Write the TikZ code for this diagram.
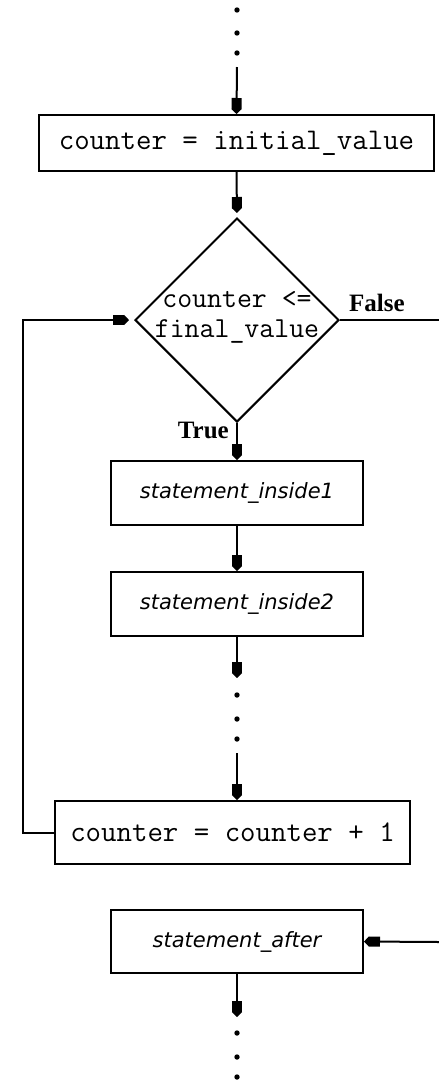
\documentclass[tikz,border=0pt]{standalone}
\usepackage{fontspec}
\newfontfamily\stmtfont{DejaVu Sans}
\newfontfamily\labfont{Liberation Serif}
\usetikzlibrary{arrows.meta,shapes.geometric}
\tikzset{
  ln/.style={line width=2pt},
  arr/.style={line width=2pt,-{Rectangle[length=11pt,width=10pt,sep=0pt]Triangle[length=5pt,width=10pt]}},
  box/.style={draw,line width=2pt,inner sep=0pt,minimum width=#1},
  codefont/.style={font=\ttfamily\fontsize{30}{24}\selectfont},
  dcode/.style={font=\ttfamily\fontsize{29}{24}\selectfont},
  stmt/.style={font=\stmtfont\itshape\fontsize{21}{24}\selectfont},
  lab/.style={font=\labfont\bfseries\fontsize{25}{28}\selectfont},
  dot/.style={fill=black}
}
\begin{document}
\begin{tikzpicture}[x=1pt,y=-1pt]
\useasboundingbox (0,0) rectangle (439,1080);
% nodes
\node[box=395pt,minimum height=56pt,codefont] (b1) at (236.5,143) {counter = initial\_value};
\node[draw,diamond,line width=2pt,minimum width=204pt,minimum height=204pt,inner sep=0pt] (d) at (237,320) {};
\node[dcode,anchor=base,inner sep=0pt,text height=15pt,text depth=0pt] (dt1) at (237,307) {counter <=};
\node[dcode,anchor=base,inner sep=0pt,text height=20pt,text depth=5pt] (dt2) at (237,337) {final\_value};
\node[lab,anchor=base west,inner sep=0pt] (fl) at (349,311) {False};
\node[lab,anchor=base east,inner sep=0pt] (tl) at (229,438) {True};
\node[box=252pt,minimum height=64pt,stmt] (b2) at (237,493) {statement\_inside1};
\node[box=252pt,minimum height=64pt,stmt] (b3) at (237,604) {statement\_inside2};
\node[box=355pt,minimum height=63pt,codefont] (b4) at (232.5,832.5) {counter = counter + 1};
\node[box=252pt,minimum height=63pt,stmt] (b5) at (237,941.5) {statement\_after};
% coordinates
\coordinate (t0) at (237,67);
\coordinate (m1) at (237,678);
\coordinate (m2) at (237,753);
\coordinate (e1) at (237,1017);
\coordinate (L) at (23,320);
\coordinate (R1) at (439,320);
\coordinate (R2) at (439,942);
% dots
\foreach \y in {10,33,53,695,719,739,1033,1057,1077}
  \fill[dot] (237,\y) circle (2.7pt);
% connectors
\draw[arr] (t0) -- (b1.north);
\draw[arr,shorten >=4pt] (b1.south) -- (d.north);
\draw[arr] (d.south) -- (b2.north);
\draw[arr] (b2.south) -- (b3.north);
\draw[arr] (b3.south) -- (m1);
\draw[arr] (m2) -- (m2 |- b4.north);
\draw[arr,shorten >=5pt] (b4.west) -| (L) -- (d.west);
\draw[ln] (d.east) -- (R1);
\draw[arr] (R2) -- (b5.east);
\draw[arr] (b5.south) -- (e1);
\end{tikzpicture}
\end{document}
